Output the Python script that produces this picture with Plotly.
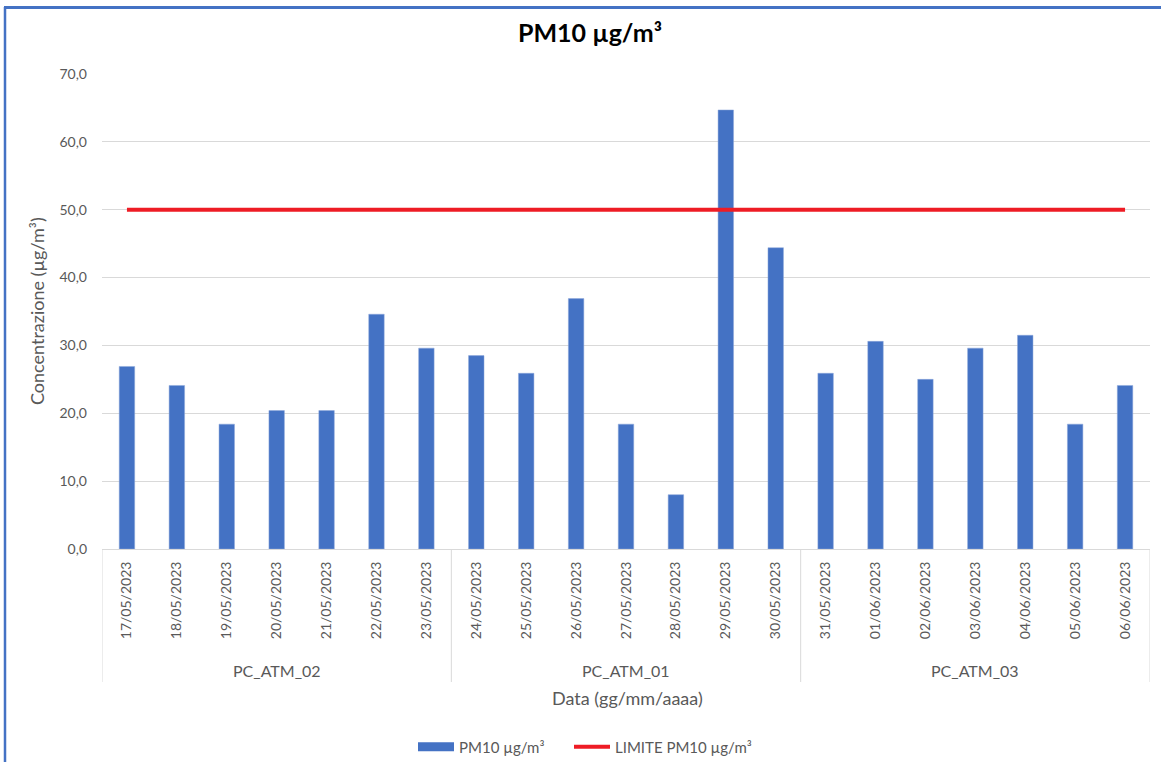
import plotly.graph_objects as go

stations = ["PC_ATM_02"] * 7 + ["PC_ATM_01"] * 7 + ["PC_ATM_03"] * 7
dates = [
    "17/05/2023", "18/05/2023", "19/05/2023", "20/05/2023", "21/05/2023", "22/05/2023", "23/05/2023",
    "24/05/2023", "25/05/2023", "26/05/2023", "27/05/2023", "28/05/2023", "29/05/2023", "30/05/2023",
    "31/05/2023", "01/06/2023", "02/06/2023", "03/06/2023", "04/06/2023", "05/06/2023", "06/06/2023",
]
pm10 = [26.9, 24.1, 18.4, 20.4, 20.4, 34.6, 29.6,
        28.5, 25.9, 36.9, 18.4, 8.0, 64.7, 44.4,
        25.9, 30.6, 25.0, 29.6, 31.5, 18.4, 24.1]
limit_value = 50
limit = [limit_value] * len(dates)

W, H = 1161, 762
ML, MR, MT, MB = 102, 11, 74, 213
FONT = "Lato"
GRAY = "#595959"
LINE = "#D9D9D9"

pw = W - ML - MR
ph = H - MT - MB
def px_x(p):
    return (p - ML) / pw
def px_y(p):
    return (H - MB - p) / ph

fig = go.Figure()
fig.add_trace(go.Bar(
    x=dates, y=pm10, name="PM10 µg/m³", showlegend=False,
    marker=dict(color="#4472C4", line=dict(color="#8EA9DB", width=0.5)),
))
# legend entry drawn as a wide rectangle like the original
fig.add_trace(go.Scatter(
    x=[None], y=[None], name="PM10 µg/m³", mode="lines",
    line=dict(color="#4472C4", width=9), legend="legend",
))
fig.add_trace(go.Scatter(
    x=dates, y=limit, name="LIMITE PM10 µg/m³", mode="lines",
    line=dict(color="#EE1C25", width=4), legend="legend2",
))

# group labels and dividers derived from the station list
groups = []
for i, s in enumerate(stations):
    if not groups or groups[-1][0] != s:
        groups.append([s, i, i])
    else:
        groups[-1][2] = i

annotations = []
shapes = []
for name, start, end in groups:
    annotations.append(dict(
        text=name, xref="x", yref="paper", x=(start + end) / 2, y=px_y(670),
        xanchor="center", yanchor="middle", showarrow=False,
        font=dict(family=FONT, size=16, color=GRAY)))
bounds = [g[1] - 0.5 for g in groups] + [groups[-1][2] + 0.5]
for b in bounds:
    shapes.append(dict(type="line", xref="x", yref="paper", x0=b, x1=b, y0=0, y1=px_y(682),
                       line=dict(color=LINE, width=1)))

annotations += [
    dict(text="Data (gg/mm/aaaa)", xref="paper", yref="paper", x=px_x(627), y=px_y(698),
         xanchor="center", yanchor="middle", showarrow=False,
         font=dict(family=FONT, size=18, color=GRAY)),
    dict(text="Concentrazione (µg/m³)", xref="paper", yref="paper", x=px_x(37), y=px_y(311),
         xanchor="center", yanchor="middle", showarrow=False, textangle=-90,
         font=dict(family=FONT, size=18, color=GRAY)),
]
shapes += [
    dict(type="line", xref="paper", yref="paper", x0=px_x(5), x1=px_x(5), y0=px_y(7), y1=px_y(H + 5),
         line=dict(color="#4472C4", width=2.5)),
    dict(type="line", xref="paper", yref="paper", x0=px_x(4), x1=px_x(W + 5), y0=px_y(7.5), y1=px_y(7.5),
         line=dict(color="#4472C4", width=3)),
]

legend_style = dict(orientation="h", xanchor="left", y=px_y(747), yanchor="middle",
                    font=dict(family=FONT, size=15, color=GRAY), bgcolor="rgba(0,0,0,0)",
                    itemwidth=36, tracegroupgap=0)

fig.update_layout(
    width=W, height=H,
    margin=dict(l=ML, r=MR, t=MT, b=MB, autoexpand=False),
    paper_bgcolor="white", plot_bgcolor="white",
    separators=", ",
    font=dict(family=FONT, color=GRAY, size=14),
    bargap=0.69,
    title=dict(text="<b>PM10 µg/m³</b>", x=px_x(590), xanchor="center", xref="paper",
               y=1 - 33 / H, yanchor="middle",
               font=dict(family=FONT, size=25, color="black")),
    showlegend=True,
    legend=dict(x=px_x(413), **legend_style),
    legend2=dict(x=px_x(569), **legend_style),
    xaxis=dict(
        type="category", tickangle=-90, automargin=False, range=[-0.5, len(dates) - 0.5],
        showline=True, linecolor=LINE, linewidth=1,
        showgrid=False, ticks="", ticklabelstandoff=6,
        tickfont=dict(family=FONT, size=14, color=GRAY),
    ),
    yaxis=dict(
        range=[0, 70], dtick=10, tickformat=".1f", automargin=False,
        showgrid=True, gridcolor=LINE, gridwidth=1, zeroline=False,
        showline=False, ticks="", ticklabelstandoff=14,
        tickfont=dict(family=FONT, size=14, color=GRAY),
    ),
    annotations=annotations,
    shapes=shapes,
)

fig.write_html("out.html", config={"displayModeBar": False},
               post_script="document.body.style.margin='0';")
